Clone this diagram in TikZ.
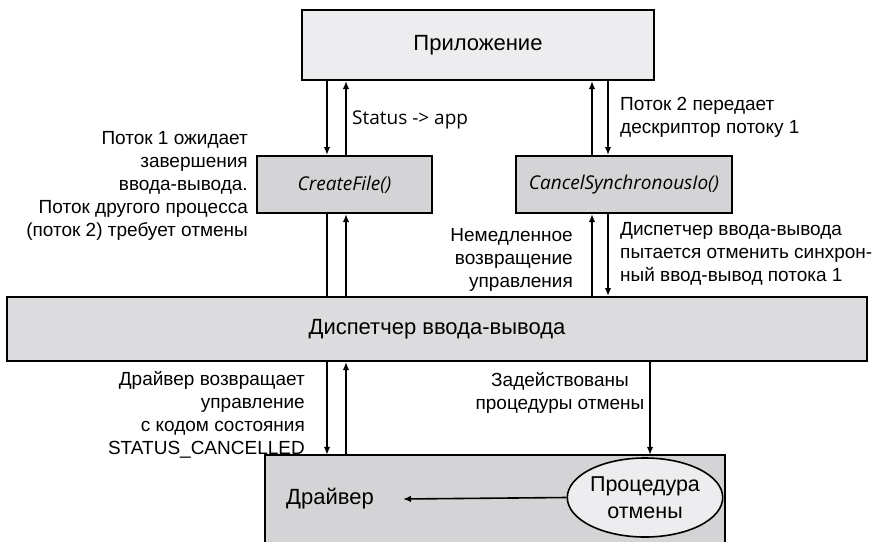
\documentclass[tikz,border=0pt]{standalone}
\usepackage{fontspec}
\setmainfont{Liberation Sans}
\newfontfamily\uifont{Open Sans}
\usetikzlibrary{arrows.meta,shapes.geometric}
\definecolor{lightbox}{HTML}{EDEDEF}
\definecolor{midbox}{HTML}{D4D4D6}
\definecolor{iobox}{HTML}{DCDCDE}
\begin{document}
\begin{tikzpicture}[x=1pt,y=-1pt,
  every node/.style={font=\fontsize{19}{23}\selectfont},
  boxtext/.style={font=\fontsize{22}{27}\selectfont},
  calltext/.style={font=\uifont\itshape\fontsize{19}{23}\selectfont},
  frame/.style={draw, line width=2pt, inner sep=0pt, anchor=center},
  arr/.style={line width=1.6pt, -{Latex[length=8pt,width=6.5pt]}},
  link/.style={line width=1.6pt},
  lbl/.style={align=left, inner sep=0pt},
  lblr/.style={align=right, inner sep=0pt},
  lblc/.style={align=center, inner sep=0pt}]
\useasboundingbox (0,0) rectangle (874,541);
\clip (0,0) rectangle (874,541);

% vertical connector columns
\coordinate (xa) at (327,0);
\coordinate (xb) at (346,0);
\coordinate (xc) at (592,0);
\coordinate (xd) at (608,0);
\coordinate (xe) at (650,0);

% boxes
\node[frame, fill=lightbox, boxtext, minimum width=352, minimum height=70] (app) at (478,45) {Приложение};
\node[frame, fill=midbox, calltext, minimum width=175, minimum height=57] (cf) at (344.5,184.5) {CreateFile()};
\node[frame, fill=midbox, calltext, minimum width=216, minimum height=57] (csi) at (624,184.5) {CancelSynchronousIo()};
\node[frame, fill=iobox, boxtext, minimum width=860, minimum height=64] (io) at (437,329) {Диспетчер ввода-вывода};

% driver box, running off the lower edge
\node[fill=midbox, inner sep=0pt, minimum width=460, minimum height=100] (drv) at (495,505) {};
\draw[line width=2pt] (drv.south west) -- (drv.north west) -- (drv.north east) -- (drv.south east);
\node[boxtext] (drvtext) at (330,499) {Драйвер};
\node[draw, line width=1.6pt, fill=lightbox, ellipse, inner sep=0pt, minimum width=134, minimum height=79, align=center,
  font=\fontsize{21.5}{27}\selectfont] (cancel) at (645,497.5) {Процедура\\отмены};
\draw[arr] (cancel.west) -- (drvtext.east -| 403,0);

% application <-> CreateFile / CancelSynchronousIo
\draw[arr] (app.south -| xa) -- (cf.north -| xa);
\draw[arr] (cf.north -| xb) -- (app.south -| xb);
\draw[arr] (csi.north -| xc) -- (app.south -| xc);
\draw[arr] (app.south -| xd) -- (csi.north -| xd);

% calls <-> I/O manager
\draw[link] (cf.south -| xa) -- (io.north -| xa);
\draw[arr] (io.north -| xb) -- (cf.south -| xb);
\draw[arr] (io.north -| xc) -- (csi.south -| xc);
\draw[arr] (csi.south -| xd) -- (io.north -| xd);

% I/O manager <-> driver
\draw[arr] (io.south -| xa) -- (drv.north -| xa);
\draw[arr] (drv.north -| xb) -- (io.south -| xb);
\draw[arr] (io.south -| xe) -- (drv.north -| xe);

% labels
\node[lbl, anchor=west, font=\uifont\fontsize{19}{23}\selectfont] (lstatus) at (352,120) {Status -> app};
\node[lblr, anchor=east] (lwait) at (248,186) {Поток 1 ожидает\\завершения\\ввода-вывода.\\Поток другого процесса\\(поток 2) требует отмены};
\node[lbl, anchor=west] (lhandle) at (620,117.5) {Поток 2 передает\\дескриптор потоку 1};
\node[lblr, anchor=east] (lreturn) at (573,259.5) {Немедленное\\возвращение\\управления};
\node[lbl, anchor=west] (ltry) at (620,254) {Диспетчер ввода-вывода\\пытается отменить синхрон-\\ный ввод-вывод потока 1};
\node[lblr, anchor=east] (lstatusc) at (305,415) {Драйвер возвращает\\управление\\с кодом состояния\\STATUS\_CANCELLED};
\node[lblc] (lroutines) at (560,392.5) {Задействованы\\процедуры отмены};
\end{tikzpicture}
\end{document}
